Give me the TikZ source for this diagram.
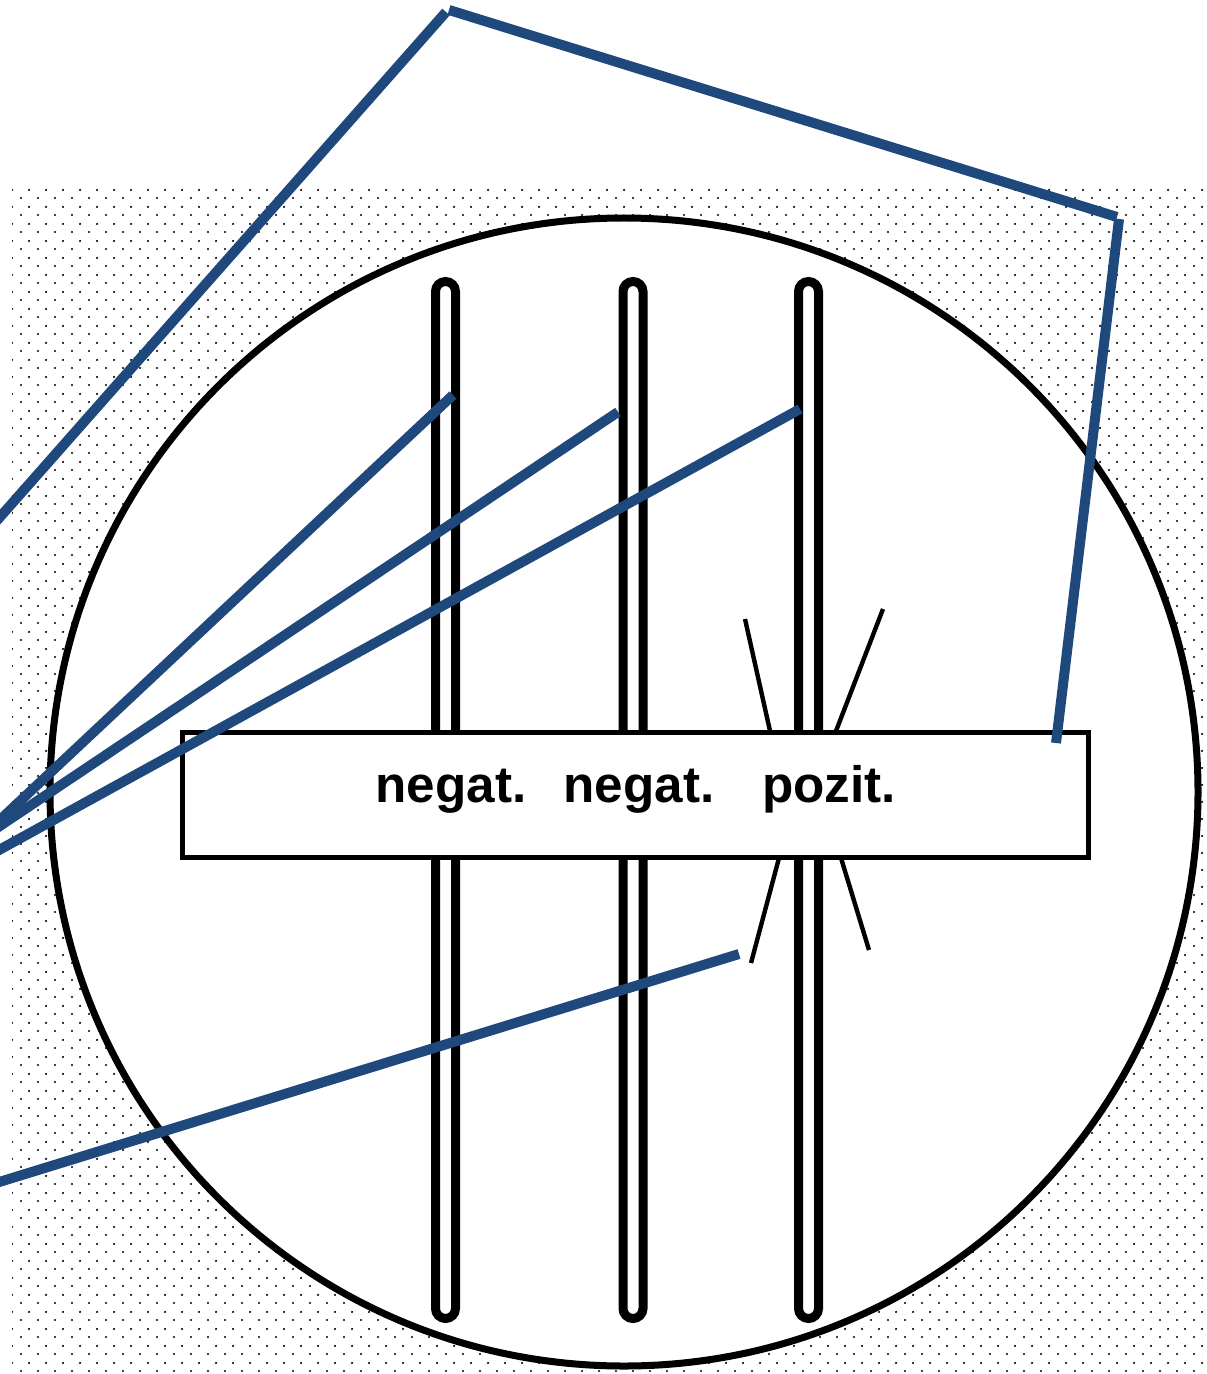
\documentclass[tikz,border=0pt]{standalone}
\usepackage{fontspec}
\setmainfont{Liberation Sans}
\usetikzlibrary{patterns}
\definecolor{leadB}{HTML}{1F497D}
\pgfdeclarepatternformonly{dotgrid}{\pgfpointorigin}{\pgfpoint{8.5pt}{8.5pt}}{\pgfpoint{8.5pt}{8.5pt}}{%
 \pgfpathcircle{\pgfpoint{2.125pt}{2.125pt}}{.62pt}%
 \pgfpathcircle{\pgfpoint{6.375pt}{6.375pt}}{.62pt}%
 \pgfusepath{fill}}
\newcommand{\lbl}{\fontsize{25.6}{30}\selectfont\bfseries}

\begin{document}
\begin{tikzpicture}[x=.5pt,y=-.5pt,every node/.style={inner sep=0pt,outer sep=0pt},
 slot/.style={draw,line width=4.5pt,rounded corners=5pt},
 ray/.style={draw,line width=2.2pt},
 lead/.style={draw=leadB,line width=5pt}]
\path[use as bounding box] (0,0) rectangle (1206,1374);
\clip (0,0) rectangle (1206,1374);
% ---------- dotted ground and dish
\fill[pattern=dotgrid,pattern color=black] (12,186) rectangle (1206,1374);
\draw[line width=3.5pt,fill=white] (624,792) circle (574);
% ---------- three slots
\foreach \xx in {445.5,633,808.5} \draw[slot] (\xx-10,281.5) rectangle (\xx+10,1318.5);
% ---------- rays round the right slot
\draw[ray] (745,619) -- (770,731) (883,609) -- (836,731) (779,858) -- (751,963) (841,858) -- (869,950);
% ---------- strip with labels
\node[draw,fill=white,line width=2.5pt,minimum width=453pt,minimum height=62.5pt] (strip) at (635,794.5) {};
\node[anchor=base] (negA) at (451,802) {\lbl negat.};
\node[anchor=base] (negB) at (639,802) {\lbl negat.};
\node[anchor=base] (poz) at (829,802) {\lbl pozit.};
% ---------- leader lines
\coordinate (tipA) at (453,395);
\coordinate (tipB) at (618,412);
\coordinate (tipC) at (800,409);
\coordinate (tipD) at (739,954);
\coordinate (top) at (446,12);
\coordinate (topR) at (449,10);
\coordinate (cnr) at (1117,217);
\coordinate (cnrB) at (1119,219);
\coordinate (tipE) at (1056,743);
\draw[lead] (-30,848) -- (tipA);
\draw[lead] (-30,846) -- (tipB);
\draw[lead] (-30,866) -- (tipC);
\draw[lead] (-30,1191) -- (tipD);
\draw[lead] (-30,551) -- (top);
\draw[lead] (topR) -- (cnr);
\draw[lead] (cnrB) -- (tipE);
\end{tikzpicture}
\end{document}
